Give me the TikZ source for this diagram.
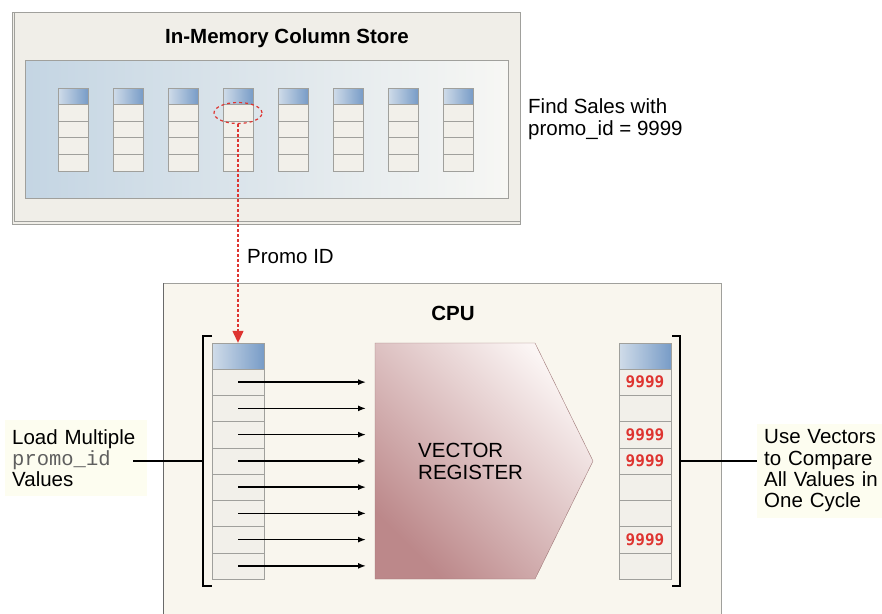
\documentclass[tikz,border=0pt]{standalone}
\usepackage{fontspec}
\setmainfont{Liberation Sans}
\setmonofont{Liberation Mono}
\newfontfamily\digitfont{DejaVu Sans Mono}
\usetikzlibrary{arrows.meta,shapes.geometric}
\definecolor{panel}{RGB}{240,238,232}
\definecolor{edge}{RGB}{160,160,156}
\definecolor{shadowedge}{RGB}{105,105,105}
\definecolor{bluel}{RGB}{196,213,227}
\definecolor{bluer}{RGB}{247,247,244}
\definecolor{headl}{RGB}{208,220,233}
\definecolor{headr}{RGB}{120,156,199}
\definecolor{cellc}{RGB}{242,240,234}
\definecolor{cpuc}{RGB}{249,246,238}
\definecolor{regdark}{RGB}{188,136,138}
\definecolor{reglight}{RGB}{251,245,244}
\definecolor{regedge}{RGB}{160,120,120}
\definecolor{hot}{RGB}{222,52,48}
\definecolor{notefill}{RGB}{253,253,240}
\definecolor{codegray}{RGB}{95,95,95}
\tikzstyle{colhead} = [draw=edge, left color=headl, right color=headr, minimum width=30pt, minimum height=16pt, inner sep=0pt]
\tikzstyle{cell} = [draw=edge, fill=cellc, minimum width=30pt, minimum height=16.75pt, inner sep=0pt]
\tikzstyle{reghead} = [draw=edge, left color=headl, right color=headr, minimum width=52pt, minimum height=26pt, inner sep=0pt]
\tikzstyle{regcell} = [draw=edge, fill=cellc, minimum width=52pt, minimum height=26.25pt, inner sep=0pt]
\tikzstyle{lbl} = [font=\fontsize{20.5}{22}\selectfont, align=left, inner sep=0pt]
\tikzstyle{ttl} = [font=\fontsize{20.5}{22}\selectfont\bfseries, inner sep=0pt]
\tikzstyle{notebox} = [fill=notefill, font=\fontsize{20.5}{21.3}\selectfont, align=left, inner xsep=7pt]
\tikzstyle{vec} = [-{Latex[length=8pt,width=6pt]}, line width=1.5pt, shorten >=9pt]
\tikzstyle{wire} = [line width=1.3pt]
\newcommand{\codeword}[1]{{\color{codegray}\ttfamily #1}}

\begin{document}
\begin{tikzpicture}[x=1pt,y=-1pt]
	\useasboundingbox (0,0) rectangle (882,613);

	% column store
	\draw[draw=edge, fill=panel] (12,12) rectangle (520,224);
	\draw[draw=edge] (14.5,12) -- (14.5,221.5) -- (520,221.5);
	\node[ttl, anchor=base] (memttl) at (287,43) {In-Memory Column Store};
	\draw[draw=edge, left color=bluel, right color=bluer] (25,60) rectangle (508,198);
	\foreach \i in {0,...,7}{
		\node[colhead] (mh\i) at ({73+55*\i},96) {};
		\foreach \j in {1,...,4}
			\node[cell] (m\i-\j) at ({73+55*\i},{104+16.75*(\j-0.5)}) {};
	}
	\node[draw=hot, dashed, ellipse, line width=1.2pt, minimum width=48pt, minimum height=21pt, inner sep=0pt] (pick) at (238,113) {};
	\node[lbl, anchor=west] (query) at (528,119) {Find Sales with\\promo\_id = 9999};

	% cpu
	\path[fill=cpuc] (163,614) -- (163,283) -- (721,283) -- (721,614);
	\draw[draw=edge] (163,283) -- (721,283) -- (721,614);
	\draw[draw=shadowedge, line width=1.5pt] (163.5,283) -- (163.5,614);
	\node[ttl, anchor=base] (cputtl) at (453,320) {CPU};

	\node[reghead] (lh) at (238,356) {};
	\foreach \j in {1,...,8}
		\node[regcell] (l\j) at (238,{369+26.25*(\j-0.5)}) {};
	\node[reghead] (rh) at (645,356) {};
	\foreach \j in {1,...,8}
		\node[regcell] (r\j) at (645,{369+26.25*(\j-0.5)}) {};
	\foreach \j in {1,3,4,7}
		\node[text=hot, font=\digitfont\bfseries\fontsize{16}{17}\selectfont] at (r\j) {9999};

	\draw[draw=regedge, shading=axis, bottom color=regdark, top color=reglight, shading angle=-45]
		(375,343) coordinate (regnw) -- (535,343) -- (593,461) coordinate (regtip)
		-- (535,579) -- (375,579) coordinate (regsw) -- cycle;
	\node[lbl, anchor=west] (regttl) at (418,461) {VECTOR\\REGISTER};
	\foreach \j in {1,...,8}
		\draw[vec] (l\j.center) -- (l\j.center -| regnw);

	\draw[hot, line width=1.3pt, dash pattern=on 3pt off 2pt, -{Triangle[length=12pt,width=11pt]}] (pick.south) -- (lh.north);
	\node[lbl, anchor=west] (pid) at (247,257) {Promo ID};

	% brackets and notes
	\coordinate (lbr) at (203,461);
	\coordinate (rbr) at (680,461);
	\draw[wire] (212,336) -- (203,336) -- (203,586) -- (212,586);
	\draw[wire] (672,336) -- (680,336) -- (680,586) -- (672,586);
	\node[notebox, anchor=west, text width=128pt, inner ysep=9pt] (lload) at (5,458) {Load Multiple\\\codeword{promo\_id}\\Values};
	\node[notebox, anchor=west, text width=116pt, inner ysep=6pt] (rcmp) at (757,471) {Use Vectors\\to Compare\\All Values in\\One Cycle};
	\draw[wire] (lbr) -- (lbr -| lload.east) [shorten >=-14pt];
	\draw[wire] (rbr) -- (rbr -| rcmp.west);
\end{tikzpicture}
\end{document}
